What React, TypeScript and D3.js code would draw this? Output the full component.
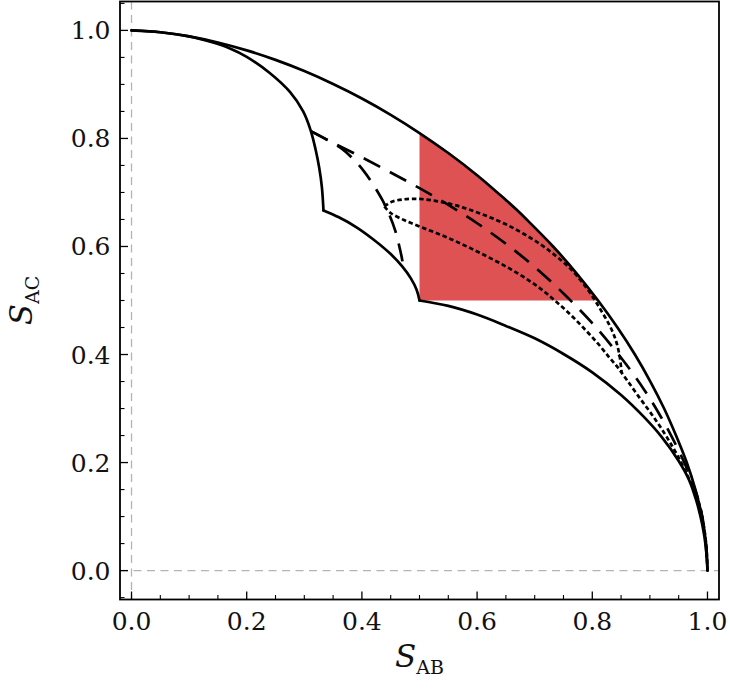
import React from 'react';
import * as d3 from 'd3';

const W = 730;
const H = 692;

// axis tick values and labels
const xTicks = [0, 0.2, 0.4, 0.6, 0.8, 1.0];
const xTickLabels = ['0.0', '0.2', '0.4', '0.6', '0.8', '1.0'];
const yTicks = [0, 0.2, 0.4, 0.6, 0.8, 1.0];
const yTickLabels = ['0.0', '0.2', '0.4', '0.6', '0.8', '1.0'];
const xMinorTicks = [0.05, 0.1, 0.15, 0.25, 0.3, 0.35, 0.45, 0.5, 0.55, 0.65, 0.7, 0.75, 0.85, 0.9, 0.95];
const yMinorTicks = [-0.05, 0.05, 0.1, 0.15, 0.25, 0.3, 0.35, 0.45, 0.5, 0.55, 0.65, 0.7, 0.75, 0.85, 0.9, 0.95, 1.05];

// outer solid boundary
const outerX = [0, 0.01, 0.05, 0.10, 0.15, 0.20, 0.25, 0.30, 0.35, 0.40, 0.45, 0.50, 0.55, 0.60, 0.65, 0.6683, 0.686, 0.732, 0.773, 0.810, 0.8437, 0.874, 0.9008, 0.9247, 0.9454, 0.964, 0.979, 0.9905, 0.9975, 0.9998, 1];
const outerY = [1, 0.9998, 0.9966, 0.9889, 0.9776, 0.963, 0.9454, 0.9247, 0.9008, 0.874, 0.8437, 0.810, 0.773, 0.732, 0.686, 0.6683, 0.65, 0.60, 0.55, 0.50, 0.45, 0.40, 0.35, 0.30, 0.25, 0.20, 0.15, 0.10, 0.05, 0.01, 0];

// inner solid boundary, three pieces (corner at 1/3,2/3 and cusp at 1/2,1/2)
const innerAX = [0, 0.05, 0.10, 0.14, 0.17, 0.20, 0.24, 0.275, 0.298, 0.311, 0.3195, 0.326, 0.3305, 0.3333];
const innerAY = [1, 0.9966, 0.9889, 0.978, 0.967, 0.951, 0.921, 0.886, 0.850, 0.815, 0.780, 0.745, 0.710, 0.6667];
const innerBX = [0.3333, 0.36, 0.39, 0.42, 0.45, 0.47, 0.485, 0.495, 0.5];
const innerBY = [0.6667, 0.654, 0.636, 0.613, 0.586, 0.563, 0.541, 0.52, 0.5];
const innerCX = [0.5, 0.55, 0.6, 0.65, 0.7, 0.75, 0.8, 0.85, 0.89, 0.92, 0.95, 0.968, 0.981, 0.991, 0.997, 1];
const innerCY = [0.5, 0.490, 0.474, 0.453, 0.43, 0.401, 0.367, 0.325, 0.284, 0.248, 0.203, 0.168, 0.128, 0.085, 0.045, 0];

// long dashed curves
const dashRightX = [0.312, 0.35, 0.40, 0.45, 0.50, 0.55, 0.60, 0.65, 0.70, 0.75, 0.80, 0.85, 0.89, 0.92, 0.945, 0.965, 0.98, 0.99, 0.996, 1];
const dashRightY = [0.813, 0.792, 0.765, 0.737, 0.708, 0.677, 0.643, 0.605, 0.562, 0.513, 0.458, 0.394, 0.335, 0.283, 0.233, 0.187, 0.145, 0.105, 0.06, 0];
const dashDownX = [0.312, 0.34, 0.365, 0.385, 0.403, 0.42, 0.435, 0.448, 0.458, 0.465, 0.470, 0.472];
const dashDownY = [0.813, 0.797, 0.781, 0.762, 0.740, 0.714, 0.687, 0.658, 0.629, 0.600, 0.575, 0.555];

// dotted curves
const dotUpperX = [0.439, 0.45, 0.47, 0.50, 0.53, 0.56, 0.59, 0.62, 0.65, 0.68, 0.71, 0.735, 0.76, 0.78, 0.80, 0.815, 0.83, 0.84, 0.847, 0.851];
const dotUpperY = [0.674, 0.682, 0.687, 0.688, 0.684, 0.677, 0.667, 0.655, 0.641, 0.624, 0.604, 0.584, 0.561, 0.537, 0.508, 0.482, 0.454, 0.429, 0.400, 0.366];
const dotLowerX = [0.439, 0.45, 0.475, 0.50, 0.53, 0.56, 0.59, 0.62, 0.65, 0.68, 0.71, 0.735, 0.76, 0.785, 0.81, 0.83, 0.845, 0.86, 0.88, 0.90, 0.92, 0.94, 0.955, 0.968, 0.978, 0.987, 0.994, 0.998, 1];
const dotLowerY = [0.674, 0.662, 0.648, 0.637, 0.6245, 0.611, 0.596, 0.580, 0.563, 0.544, 0.522, 0.500, 0.476, 0.449, 0.420, 0.394, 0.375, 0.353, 0.323, 0.294, 0.263, 0.228, 0.199, 0.170, 0.148, 0.118, 0.08, 0.045, 0];

// shaded region bounds
const shadeXMin = 0.5;
const shadeYMin = 0.5;

const FONT = "'DejaVu Serif', serif";

function zip(xs: number[], ys: number[]): [number, number][] {
  return xs.map((x, i) => [x, ys[i]]);
}

export default function App() {
  const left = 120, right = 719, top = 1.5, bottom = 599.5;
  const x = d3.scaleLinear().domain([-0.02, 1.02]).range([left, right]);
  const y = d3.scaleLinear().domain([-0.0535, 1.0535]).range([bottom, top]);

  const line = d3
    .line<[number, number]>()
    .x((d) => x(d[0]))
    .y((d) => y(d[1]))
    .curve(d3.curveCatmullRom.alpha(0.5));

  // shaded region from outer curve
  const outer = zip(outerX, outerY);
  const interpY = (xv: number) => {
    for (let i = 0; i < outer.length - 1; i++) {
      const [x0, y0] = outer[i];
      const [x1, y1] = outer[i + 1];
      if (xv >= x0 && xv <= x1) return y0 + ((xv - x0) / (x1 - x0)) * (y1 - y0);
    }
    return 0;
  };
  const interpX = (yv: number) => {
    for (let i = 0; i < outer.length - 1; i++) {
      const [x0, y0] = outer[i];
      const [x1, y1] = outer[i + 1];
      if (yv <= y0 && yv >= y1) return x0 + ((y0 - yv) / (y0 - y1)) * (x1 - x0);
    }
    return 1;
  };
  const shadeTop: [number, number][] = [
    [shadeXMin, interpY(shadeXMin)],
    ...outer.filter((p) => p[0] > shadeXMin + 0.002 && p[1] > shadeYMin + 0.002),
    [interpX(shadeYMin), shadeYMin],
  ];
  const shadePath =
    (line(shadeTop) as string) + `L${x(shadeXMin)},${y(shadeYMin)}Z`;

  const black = '#000';
  const lw = 2.7;

  return (
    <svg
      width={W}
      height={H}
      style={{ position: 'absolute', left: 0, top: 0, display: 'block', background: '#fff' }}
      fontFamily={FONT}
    >
      <rect x={0} y={0} width={W} height={H} fill="#fff" />
      {/* reference lines */}
      <line x1={x(0)} x2={x(0)} y1={top} y2={bottom} stroke="#b4b4b4" strokeWidth={1.3} strokeDasharray="8,5.5" />
      <line x1={left} x2={right} y1={y(0)} y2={y(0)} stroke="#b4b4b4" strokeWidth={1.3} strokeDasharray="8,5.5" />

      {/* shaded region */}
      <path d={shadePath} fill="#d62728" fillOpacity={0.8} stroke="none" />

      {/* solid boundaries */}
      <path d={line(outer) as string} fill="none" stroke={black} strokeWidth={lw} strokeLinecap="round" strokeLinejoin="round" />
      <path d={line(zip(innerAX, innerAY)) as string} fill="none" stroke={black} strokeWidth={lw} strokeLinecap="round" strokeLinejoin="round" />
      <path d={line(zip(innerBX, innerBY)) as string} fill="none" stroke={black} strokeWidth={lw} strokeLinecap="round" strokeLinejoin="round" />
      <path d={line(zip(innerCX, innerCY)) as string} fill="none" stroke={black} strokeWidth={lw} strokeLinecap="round" strokeLinejoin="round" />

      {/* dashed */}
      <path d={line(zip(dashRightX, dashRightY)) as string} fill="none" stroke={black} strokeWidth={lw} strokeDasharray="18.5,11" />
      <path d={line(zip(dashDownX, dashDownY)) as string} fill="none" stroke={black} strokeWidth={lw} strokeDasharray="18.5,11" />

      {/* dotted */}
      <path d={line(zip(dotUpperX, dotUpperY)) as string} fill="none" stroke={black} strokeWidth={lw} strokeDasharray="4.5,2.8" />
      <path d={line(zip(dotLowerX, dotLowerY)) as string} fill="none" stroke={black} strokeWidth={lw} strokeDasharray="4.5,2.8" />

      {/* frame */}
      <rect x={left} y={top} width={right - left} height={bottom - top} fill="none" stroke={black} strokeWidth={1.8} />

      {/* ticks */}
      {xTicks.map((t) => (
        <line key={'xt' + t} x1={x(t)} x2={x(t)} y1={bottom} y2={bottom - 8} stroke={black} strokeWidth={1.3} />
      ))}
      {xMinorTicks.map((t) => (
        <line key={'xm' + t} x1={x(t)} x2={x(t)} y1={bottom} y2={bottom - 4.5} stroke={black} strokeWidth={1.1} />
      ))}
      {yTicks.map((t) => (
        <line key={'yt' + t} x1={left} x2={left + 8} y1={y(t)} y2={y(t)} stroke={black} strokeWidth={1.3} />
      ))}
      {yMinorTicks.map((t) => (
        <line key={'ym' + t} x1={left} x2={left + 4.5} y1={y(t)} y2={y(t)} stroke={black} strokeWidth={1.1} />
      ))}

      {/* tick labels */}
      {xTicks.map((t, i) => (
        <text key={'xl' + t} x={x(t)} y={630} textAnchor="middle" fontSize={25} fill="#111">
          {xTickLabels[i]}
        </text>
      ))}
      {yTicks.map((t, i) => (
        <text key={'yl' + t} x={110.5} y={y(t) + 9} textAnchor="end" fontSize={25} fill="#111">
          {yTickLabels[i]}
        </text>
      ))}

      {/* axis labels */}
      <text x={(left + right) / 2} y={667} textAnchor="middle" fontSize={31} fill="#111">
        <tspan fontStyle="italic">S</tspan>
        <tspan fontSize={19} dy={7}>AB</tspan>
      </text>
      <text transform={`translate(32,${(top + bottom) / 2}) rotate(-90)`} textAnchor="middle" fontSize={31} fill="#111">
        <tspan fontStyle="italic">S</tspan>
        <tspan fontSize={19} dy={7}>AC</tspan>
      </text>
    </svg>
  );
}
